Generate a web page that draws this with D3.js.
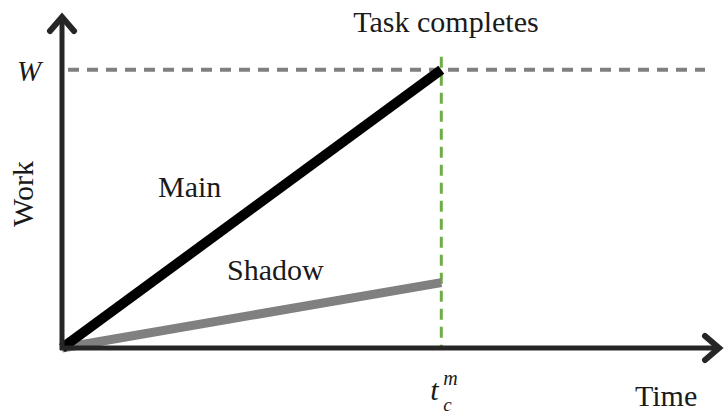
<!DOCTYPE html>
<html>
<head>
<meta charset="utf-8">
<script src="https://cdn.jsdelivr.net/npm/d3@7"></script>
<style>
  body { margin: 0; background: #fff; }
  text { font-family: "Liberation Serif", "Times New Roman", serif; fill: #1a1a1a; }
</style>
</head>
<body>
<svg id="chart" width="725" height="419"></svg>
<script>
// normalised work/time: main finishes W at t_c^m = 1
const seriesNames = ["Main", "Shadow"];
const mainWork = [[0, 0], [1, 1]];
const shadowWork = [[0, 0], [1, 0.235]];
const completeTime = 1;   // t_c^m
const totalWork = 1;      // W
const xMax = 1.74;
const yMax = 1.2;

const svg = d3.select("#chart");

const x = d3.scaleLinear().domain([0, xMax]).range([62, 722]);
const y = d3.scaleLinear().domain([0, yMax]).range([348, 14]);

const line = d3.line().x(d => x(d[0])).y(d => y(d[1]));

// W reference line
svg.append("line")
    .attr("x1", x(0) + 6).attr("x2", x(xMax) - 17)
    .attr("y1", y(totalWork)).attr("y2", y(totalWork))
    .attr("stroke", "#808080").attr("stroke-width", 4)
    .attr("stroke-dasharray", "11,8");

// task complete marker
svg.append("line")
    .attr("x1", x(completeTime)).attr("x2", x(completeTime))
    .attr("y1", y(totalWork) - 13).attr("y2", y(0) - 2)
    .attr("stroke", "#70ad47").attr("stroke-width", 3)
    .attr("stroke-dasharray", "11,7");

// work lines
svg.append("path").datum(shadowWork)
    .attr("d", line)
    .attr("stroke", "#808080").attr("stroke-width", 9)
    .attr("fill", "none");

svg.append("path").datum(mainWork)
    .attr("d", line)
    .attr("stroke", "#000").attr("stroke-width", 10)
    .attr("fill", "none");

// axes with arrows
const axisColor = "#262626";
svg.append("line")
    .attr("x1", x(0)).attr("x2", x(0))
    .attr("y1", y(0) + 2).attr("y2", y(yMax) + 2)
    .attr("stroke", axisColor).attr("stroke-width", 5);
svg.append("line")
    .attr("x1", x(0) - 2).attr("x2", x(xMax) - 2)
    .attr("y1", y(0)).attr("y2", y(0))
    .attr("stroke", axisColor).attr("stroke-width", 5);

svg.append("path")
    .attr("d", `M${x(0) - 12},${y(yMax) + 17} L${x(0)},${y(yMax) + 3} L${x(0) + 12},${y(yMax) + 17}`)
    .attr("stroke", axisColor).attr("stroke-width", 6)
    .attr("fill", "none").attr("stroke-linecap", "round");
svg.append("path")
    .attr("d", `M${x(xMax) - 17},${y(0) - 12} L${x(xMax) - 3},${y(0)} L${x(xMax) - 17},${y(0) + 12}`)
    .attr("stroke", axisColor).attr("stroke-width", 6)
    .attr("fill", "none").attr("stroke-linecap", "round");

// labels
svg.append("text")
    .attr("x", 29).attr("y", 81)
    .attr("font-size", 29).attr("font-style", "italic")
    .attr("text-anchor", "middle")
    .text("W");

svg.append("text")
    .attr("x", 446).attr("y", 32)
    .attr("font-size", 30).attr("text-anchor", "middle")
    .text("Task completes");

svg.append("text")
    .attr("transform", `translate(33,194) rotate(-90)`)
    .attr("font-size", 30).attr("text-anchor", "middle")
    .text("Work");

svg.append("text")
    .attr("x", 158).attr("y", 197)
    .attr("font-size", 30)
    .text(seriesNames[0]);

svg.append("text")
    .attr("x", 227).attr("y", 280)
    .attr("font-size", 30)
    .text(seriesNames[1]);

// t_c^m label, built from three pieces
const tx = x(completeTime) - 11;
svg.append("text")
    .attr("x", tx).attr("y", 400)
    .attr("font-size", 30).attr("font-style", "italic")
    .attr("font-family", "'DejaVu Serif', serif")
    .text("t");
svg.append("text")
    .attr("x", tx + 13).attr("y", 411)
    .attr("font-size", 19).attr("font-style", "italic")
    .attr("font-family", "'DejaVu Serif', serif")
    .text("c");
svg.append("text")
    .attr("x", tx + 13).attr("y", 385)
    .attr("font-size", 20).attr("font-style", "italic")
    .attr("font-family", "'DejaVu Serif', serif")
    .text("m");

svg.append("text")
    .attr("x", 635).attr("y", 406)
    .attr("font-size", 30)
    .text("Time");
</script>
</body>
</html>
